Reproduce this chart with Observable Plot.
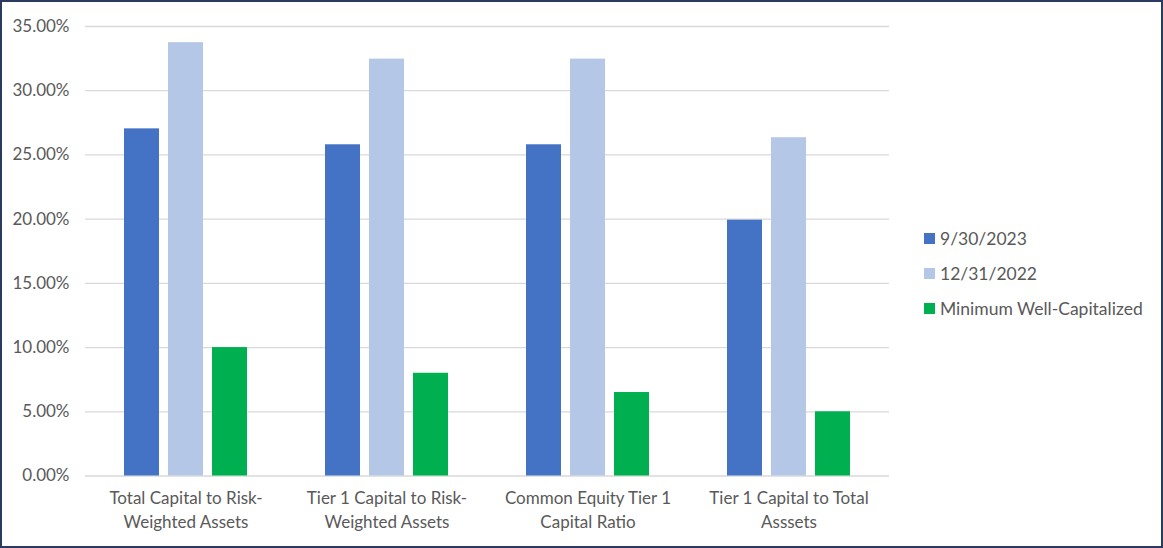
<!DOCTYPE html>
<html>
<head>
<meta charset="utf-8">
<script src="https://cdn.jsdelivr.net/npm/d3@7"></script>
<script src="https://cdn.jsdelivr.net/npm/@observablehq/plot@0.6"></script>
<style>
  html, body { margin: 0; padding: 0; background: #fff; }
  #wrap { position: relative; width: 1163px; height: 548px; overflow: hidden; font-family: Lato, "Open Sans", sans-serif; }
  #frame { position: absolute; left: 0; top: 0; width: 1163px; height: 548px; box-sizing: border-box; border: 2px solid #2b3a60; pointer-events: none; }
  #chart { position: absolute; left: 0; top: 0; }
  #legend { position: absolute; left: 924px; top: 221px; font-size: 17.5px; color: #595959; }
  .row { display: flex; align-items: center; height: 35px; }
  .sw { width: 11px; height: 11px; margin-right: 5px; }
</style>
</head>
<body>
<div id="wrap">
  <div id="chart"></div>
  <div id="legend"></div>
  <div id="frame"></div>
</div>
<script>
const categories = [
  "Total Capital to Risk-Weighted Assets",
  "Tier 1 Capital to Risk-Weighted Assets",
  "Common Equity Tier 1 Capital Ratio",
  "Tier 1 Capital to Total Asssets"
];
const categoryLabels = [
  "Total Capital to Risk-\nWeighted Assets",
  "Tier 1 Capital to Risk-\nWeighted Assets",
  "Common Equity Tier 1\nCapital Ratio",
  "Tier 1 Capital to Total\nAsssets"
];
const seriesNames = ["9/30/2023", "12/31/2022", "Minimum Well-Capitalized"];
const seriesColors = ["#4472C4", "#B4C7E7", "#00B050"];
const values2023 = [27.03, 25.79, 25.79, 19.92];
const values2022 = [33.74, 32.46, 32.46, 26.34];
const valuesMinimum = [10.0, 8.0, 6.5, 5.0];
const yTicks = [0, 5, 10, 15, 20, 25, 30, 35];

const seriesValues = [values2023, values2022, valuesMinimum];
const data = [];
categories.forEach((c, i) => {
  seriesNames.forEach((s, j) => {
    data.push({category: c, series: s, value: seriesValues[j][i]});
  });
});

const chart = Plot.plot({
  width: 900,
  height: 548,
  marginLeft: 85,
  marginRight: 11,
  marginTop: 26,
  marginBottom: 72.5,
  style: {fontFamily: "Lato, 'Open Sans', sans-serif", fontSize: "17px", color: "#595959", background: "transparent"},
  fx: {domain: categories, paddingInner: 0, paddingOuter: 0, label: null, axis: null},
  x: {domain: seriesNames, paddingInner: 0.2, paddingOuter: 0.86, axis: null},
  y: {domain: [0, 35], label: null, axis: null},
  color: {domain: seriesNames, range: seriesColors},
  marks: [
    Plot.gridY(yTicks, {stroke: "#d9d9d9", strokeOpacity: 1, strokeWidth: 1.3}),
    Plot.barY(data, {fx: "category", x: "series", y: "value", fill: "series"}),
    Plot.axisY(yTicks, {tickSize: 0, tickPadding: 16, tickFormat: d => d.toFixed(2) + "%", fontSize: 17, fill: "#595959", label: null}),
    Plot.axisFx({anchor: "bottom", tickSize: 0, tickPadding: 11, lineHeight: 1.4, fontSize: 17, fill: "#595959", label: null,
      tickFormat: d => categoryLabels[categories.indexOf(d)]})
  ]
});
document.getElementById("chart").appendChild(chart);

const legend = document.getElementById("legend");
seriesNames.forEach((s, j) => {
  const row = document.createElement("div");
  row.className = "row";
  const sw = document.createElement("div");
  sw.className = "sw";
  sw.style.background = seriesColors[j];
  const t = document.createElement("span");
  t.textContent = s;
  row.appendChild(sw);
  row.appendChild(t);
  legend.appendChild(row);
});
</script>
</body>
</html>
